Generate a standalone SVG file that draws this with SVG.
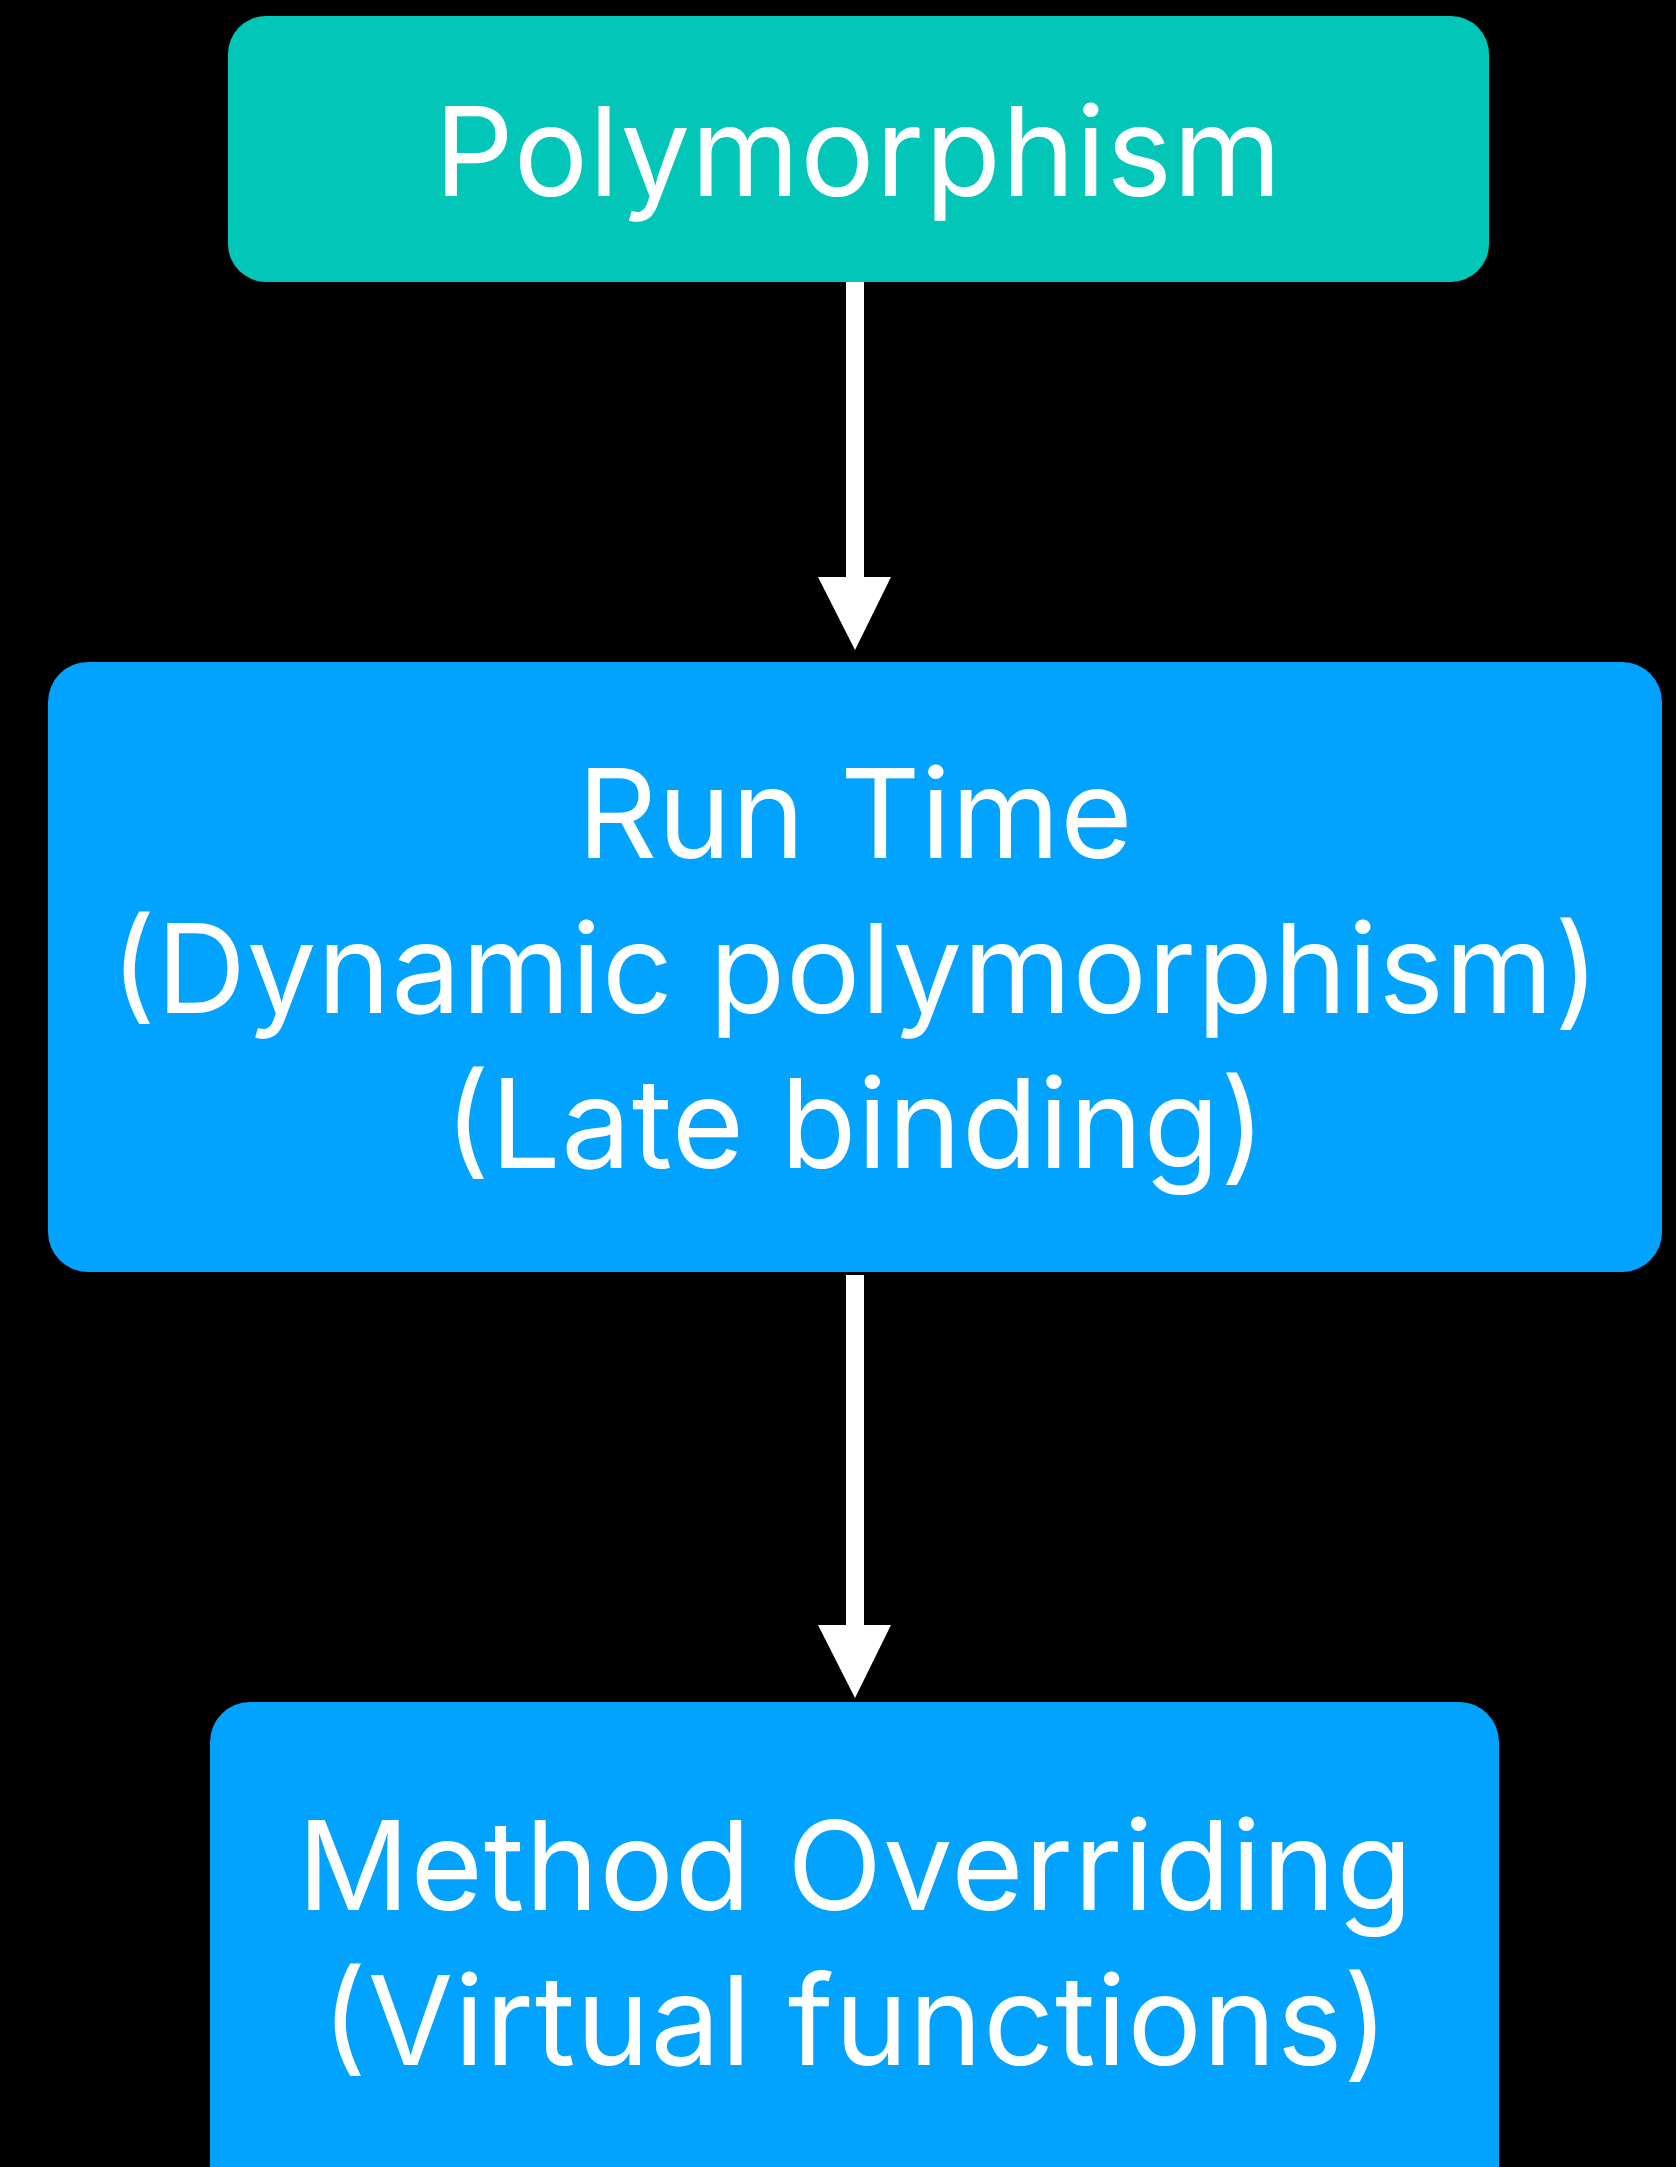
<svg xmlns="http://www.w3.org/2000/svg" width="1676" height="2167" viewBox="0 0 1676 2167">
  <style>
    .label { font-family: Inter, "Liberation Sans", "DejaVu Sans", sans-serif; font-size: 124px; fill: #ffffff; text-anchor: middle; }
    .teal { fill: #02C7B8; }
    .blue { fill: #02A2FF; }
    .conn { fill: #ffffff; }
  </style>
  <rect x="0" y="0" width="1676" height="2167" fill="#000000"/>

  <g id="connectors">
    <!-- Polymorphism -> Run Time -->
    <rect class="conn" x="846" y="282" width="18" height="296"/>
    <polygon class="conn" points="818,577 891,577 855,650"/>
    <!-- Run Time -> Method Overriding -->
    <rect class="conn" x="846" y="1275" width="18" height="351"/>
    <polygon class="conn" points="818,1625 891,1625 855,1698"/>
  </g>

  <g id="node-polymorphism">
    <rect class="teal" x="228" y="16" width="1261" height="266" rx="38" ry="38"/>
    <text class="label" x="858" y="196" textLength="847">Polymorphism</text>
  </g>

  <g id="node-runtime">
    <rect class="blue" x="48" y="662" width="1614" height="610" rx="40" ry="40"/>
    <text class="label" x="855" y="858" textLength="555">Run Time</text>
    <text class="label" x="855" y="1013" textLength="1489">(Dynamic polymorphism)</text>
    <text class="label" x="855" y="1168" textLength="821">(Late binding)</text>
  </g>

  <g id="node-overriding">
    <rect class="blue" x="210" y="1702" width="1289" height="520" rx="40" ry="40"/>
    <text class="label" x="855" y="1910" textLength="1115">Method Overriding</text>
    <text class="label" x="855" y="2065" textLength="1067">(Virtual functions)</text>
  </g>
</svg>
